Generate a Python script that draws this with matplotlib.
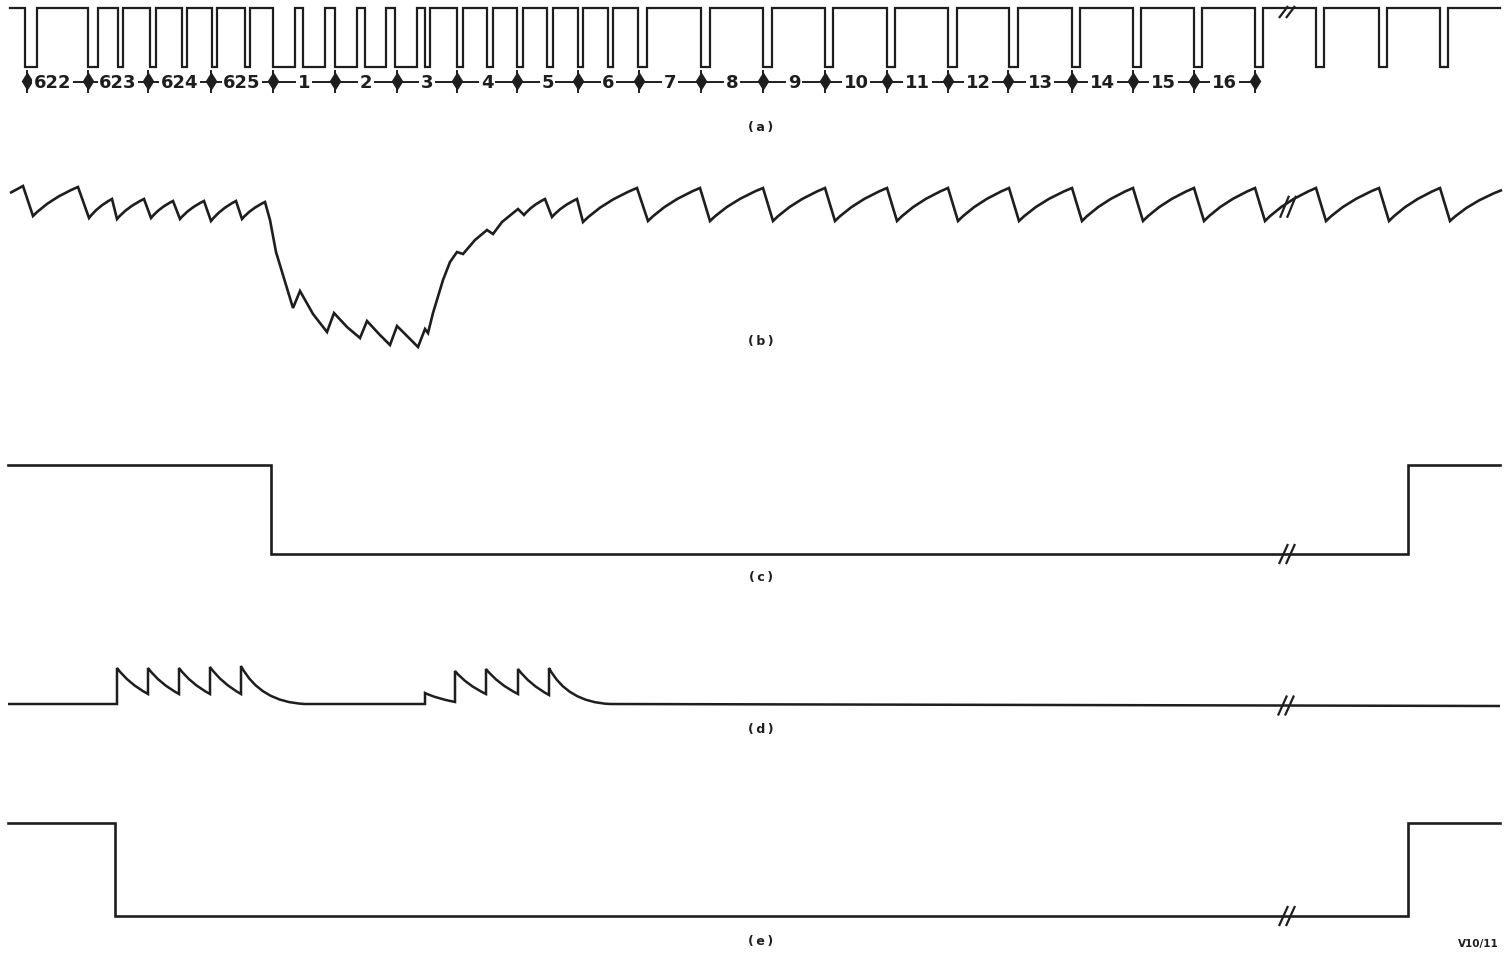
import numpy as np
import matplotlib.pyplot as plt
from matplotlib.path import Path
from matplotlib.patches import PathPatch

plt.rcParams['font.family'] = ['DejaVu Sans']

INK = '#1e1e1e'

# ---- (a) composite sync: pulse start / end (time axis in drawing units)
a_fall = [25, 88, 118, 150, 182, 212, 245, 273, 303, 335, 365, 395, 425, 457, 487,
          517, 547, 578, 608, 638, 701, 763, 825, 887, 948, 1009, 1072, 1133, 1194,
          1255, 1316, 1379, 1440]
a_rise = [37, 98, 123, 156, 187, 217, 250, 295, 325, 357, 386, 417, 430, 463, 493,
          523, 553, 583, 613, 647, 710, 772, 833, 895, 957, 1018, 1080, 1141, 1202,
          1263, 1324, 1387, 1448]
a_span = (10, 1500)

# line numbering under (a)
line_marks = [27, 88, 148, 211, 273, 335, 397, 457, 517, 578, 639, 701, 763, 825,
              887, 948, 1008, 1072, 1133, 1194, 1255]
line_labels = ['622', '623', '624', '625', '1', '2', '3', '4', '5', '6', '7', '8',
               '9', '10', '11', '12', '13', '14', '15', '16']

# ---- (b) sawtooth (level units, L = straight, C = charging curve)
b_t = [10, 23, 33, 78, 89, 112, 117, 144, 151, 173, 180, 204, 211, 236, 242, 265,
       270, 276, 286, 293, 300, 313, 327, 334, 347, 360, 367, 379, 390, 397, 418,
       425, 428, 433, 443, 450, 457, 463, 475, 487, 493, 502, 518, 524, 545, 552,
       577, 583, 637, 648, 700, 710, 763, 773, 825, 835, 887, 897, 948, 958, 1009,
       1019, 1072, 1082, 1133, 1143, 1194, 1204, 1255, 1265, 1316, 1326, 1379, 1389,
       1440, 1450, 1502]
b_v = [157, 164, 134, 163, 132, 151, 131, 151, 132, 149, 131, 149, 129, 149, 131, 148,
       130, 98, 65, 42, 59, 36, 18, 37, 23, 12, 29, 16, 5, 24, 3,
       21, 17, 37, 70, 88, 98, 96, 110, 120, 116, 128, 141, 135, 151, 133,
       151, 128, 162, 129, 162, 129, 162, 129, 162, 129, 162, 129, 162, 129, 162,
       129, 162, 129, 162, 129, 162, 129, 162, 129, 162, 129, 162, 129,
       162, 129, 160]
b_kind = ('-LLCLCLCLCLCLCLC'
          'LLLLLLLLLLLLLLL'
          'LLLLLLLLLLLLLCL'
          + 'CL' * 15 + 'C')

# ---- (c) field blanking
c_t = [8, 271, 271, 1408, 1408, 1500]
c_v = [1, 1, 0, 0, 1, 1]

# ---- (d) pulse trains (level units, E = decay to rest)
d_t = [8, 117, 117, 148, 148, 179, 179, 210, 210, 241, 241, 305, 425, 425, 455, 455,
       486, 486, 518, 518, 549, 549, 610, 1500]
d_v = [0, 0, 36, 10, 36, 10, 36, 10, 37, 10, 38, 0, 0, 11, 2, 33, 10, 35, 10, 35,
       9, 36, 0, -2]
d_kind = '-LLCLCLCLCLELLCLCLCLCLEL'

# ---- (e) gate
e_t = [8, 115, 115, 1408, 1408, 1500]
e_v = [1, 1, 0, 0, 1, 1]

panel_labels = ['(a)', '(b)', '(c)', '(d)', '(e)']


def curve_path(xs, ys, kinds):
    verts = [(xs[0], ys[0])]
    codes = [Path.MOVETO]
    for i in range(1, len(xs)):
        x0, y0, x1, y1 = xs[i - 1], ys[i - 1], xs[i], ys[i]
        k = kinds[i]
        if k == 'L':
            verts.append((x1, y1))
            codes.append(Path.LINETO)
        else:
            a, b = (0.375, 0.6) if k == 'C' else (0.3, 0.95)
            verts += [(x0 + a * (x1 - x0), y0 + b * (y1 - y0)), (x1, y1)]
            codes += [Path.CURVE3, Path.CURVE3]
    return Path(verts, codes)


def slashes(ax, x, y, h):
    for dx in (0, 7):
        ax.plot([x - 4 + dx, x + 5 + dx], [y + h, y - h], color=INK, lw=1.6,
                solid_capstyle='butt')


fig = plt.figure(figsize=(15.07, 9.59), dpi=100)
ax = fig.add_axes([0, 0, 1, 1])
ax.set_xlim(0, 1507)
ax.set_ylim(959, 0)
ax.axis('off')

# (a)
A_TOP, A_H = 8, 59
xs, ys = [a_span[0]], [A_TOP]
for f, r in zip(a_fall, a_rise):
    xs += [f, f, r, r]
    ys += [A_TOP, A_TOP + A_H, A_TOP + A_H, A_TOP]
xs.append(a_span[1])
ys.append(A_TOP)
ax.plot(xs, ys, color=INK, lw=1.6, solid_joinstyle='miter')
slashes(ax, 1283, A_TOP + 4, 6)

MY = 82
ax.plot([line_marks[0], line_marks[-1]], [MY, MY], color=INK, lw=1.4)
for m in line_marks:
    ax.plot([m, m], [MY - 11, MY + 10], color=INK, lw=1.4)
ax.plot(line_marks, [MY - 1] * len(line_marks), 'd', color=INK, ms=8)
for i, lab in enumerate(line_labels):
    cx = (line_marks[i] + line_marks[i + 1]) / 2
    if i == 0:
        cx -= 5
    ax.text(cx, MY + 1, lab, ha='center', va='center', fontsize=13, fontweight='bold',
            color=INK, bbox=dict(facecolor='white', edgecolor='none', pad=1.2))

# (b)
B_BASE = 350
by = [B_BASE - v for v in b_v]
ax.add_patch(PathPatch(curve_path(b_t, by, b_kind), fill=False, edgecolor=INK,
                       lw=1.9, joinstyle='miter'))
slashes(ax, 1284, float(np.interp(1287, b_t, by)), 11)

# (c)
C_TOP, C_H = 465, 89
ax.plot(c_t, [C_TOP + (1 - v) * C_H for v in c_v], color=INK, lw=1.9,
        solid_joinstyle='miter')
slashes(ax, 1283, C_TOP + C_H, 10)

# (d)
D_BASE = 704
dy = [D_BASE - v for v in d_v]
ax.add_patch(PathPatch(curve_path(d_t, dy, d_kind), fill=False, edgecolor=INK,
                       lw=1.8, joinstyle='miter'))
slashes(ax, 1282, float(np.interp(1282, d_t, dy)), 10)

# (e)
E_TOP, E_H = 823, 93
ax.plot(e_t, [E_TOP + (1 - v) * E_H for v in e_v], color=INK, lw=1.9,
        solid_joinstyle='miter')
slashes(ax, 1283, E_TOP + E_H, 10)

for lab, y in zip(panel_labels, [127, 341, 578, 730, 941]):
    spaced = lab[0] + '\u2009' + lab[1] + '\u2009' + lab[2]
    ax.text(761, y, spaced, ha='center', va='center', fontsize=9, fontweight='bold',
            color=INK)
ax.text(1478, 944, 'V10/11', ha='center', va='center', fontsize=7.5,
        fontweight='bold', color=INK)

fig.savefig('out.png', dpi=100)
